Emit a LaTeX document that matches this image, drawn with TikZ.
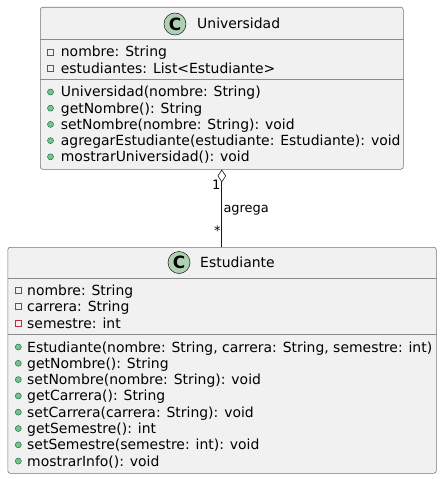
\documentclass[tikz,border=0pt]{standalone}
\usepackage{fontspec}
\setmainfont{DejaVu Sans}
\usetikzlibrary{shapes.geometric, positioning}
\definecolor{boxfill}{HTML}{F1F1F1}
\definecolor{boxline}{HTML}{181818}
\definecolor{cfill}{HTML}{ADD1B2}
\definecolor{privred}{HTML}{C82930}
\definecolor{pubfill}{HTML}{84BE84}
\definecolor{publine}{HTML}{038048}

\begin{document}
\begin{tikzpicture}[x=1bp, y=-1bp,
        classbox/.style={draw=boxline!60, fill=boxfill, rounded corners=2.5bp, line width=0.6bp, anchor=north west, inner sep=0},
        sep/.style={draw=boxline!50, line width=0.6bp},
        badge/.style={circle, draw=boxline, fill=cfill, line width=0.5bp, minimum size=22bp, inner sep=0, font=\fontsize{17}{17}\selectfont\bfseries},
        title/.style={anchor=base west, inner sep=0, font=\fontsize{14}{16}\selectfont},
        member/.style={anchor=base west, inner sep=0, font=\fontsize{14}{16}\selectfont},
        priv/.style={draw=privred, minimum size=6bp, inner sep=0, line width=0.6bp},
        pub/.style={circle, draw=publine, fill=pubfill, minimum size=6bp, inner sep=0, line width=0.5bp},
        mult/.style={inner sep=0, font=\fontsize{13}{13}\selectfont}]
        \fill[white] (0, 0) rectangle (442, 479);
        \useasboundingbox (0, 0) rectangle (442, 479);

        % Universidad
        \node[classbox, minimum width=363bp, minimum height=162bp] at (40, 7) (univ) {};
        \draw[sep] (univ.west |- 0, 39.5) -- (univ.east |- 0, 39.5)
            (univ.west |- 0, 79) -- (univ.east |- 0, 79);
        \node[badge] at (175, 24) (univC) {C};
        \node[title] at (197, 29) (univT) {Universidad};
        \foreach \txt [count=\i] in {nombre: String, estudiantes: List<Estudiante>} {
            \node[priv] at (50.7, 35.7+16.3*\i) (ua\i) {};
            \node[member] at (60.7, 40.7+16.3*\i) (uat\i) {\txt};
        }
        \foreach \txt [count=\i] in {Universidad(nombre: String), getNombre(): String,
            setNombre(nombre: String): void, agregarEstudiante(estudiante: Estudiante): void,
            mostrarUniversidad(): void} {
            \node[pub] at (50.5, 75.8+16.2*\i) (um\i) {};
            \node[member] at (60.7, 80.8+16.2*\i) (umt\i) {\txt};
        }

        % Estudiante
        \node[classbox, minimum width=428.5bp, minimum height=226bp] at (7.5, 247) (estu) {};
        \draw[sep] (estu.west |- 0, 278) -- (estu.east |- 0, 278)
            (estu.west |- 0, 334) -- (estu.east |- 0, 334);
        \node[badge] at (179, 262.5) (estuC) {C};
        \node[title] at (200, 267.5) (estuT) {Estudiante};
        \foreach \txt [count=\i] in {nombre: String, carrera: String, semestre: int} {
            \node[priv] at (18.5, 273.5+16.5*\i) (ea\i) {};
            \node[member] at (27, 278.5+16.5*\i) (eat\i) {\txt};
        }
        \foreach \txt [count=\i] in {{Estudiante(nombre: String, carrera: String, semestre: int)},
            getNombre(): String, setNombre(nombre: String): void, getCarrera(): String,
            setCarrera(carrera: String): void, getSemestre(): int,
            setSemestre(semestre: int): void, mostrarInfo(): void} {
            \node[pub] at (18.3, 330.7+16.3*\i) (em\i) {};
            \node[member] at (27, 335.7+16.3*\i) (emt\i) {\txt};
        }

        % agregacion
        \node[diamond, draw=boxline, fill=white, line width=0.6bp, inner sep=0,
            minimum width=8bp, minimum height=12bp, anchor=north] at (univ.south) (agg) {};
        \draw[boxline, line width=0.9bp] (agg.south) -- (agg.south |- estu.north);
        \node[mult, anchor=base east] at (220.5, 189.7) (m1) {1};
        \node[mult, anchor=base west] at (223.3, 212.5) (lbl) {agrega};
        \node[mult, anchor=base east] at (220.7, 235) (m2) {*};
    \end{tikzpicture}
\end{document}
